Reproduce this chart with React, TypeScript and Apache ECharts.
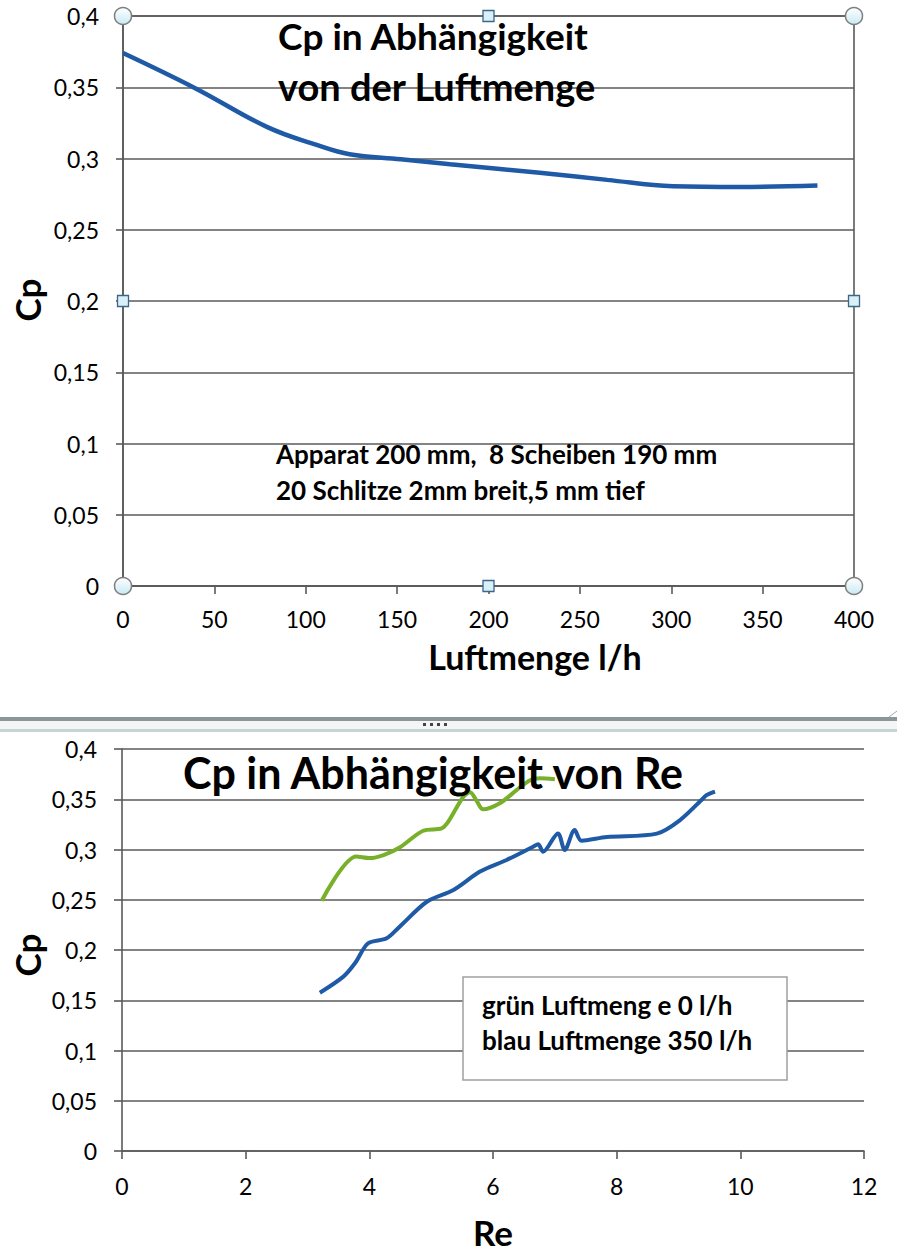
import React, { useEffect, useRef } from "react";
import * as echarts from "echarts";

// Top chart: Cp vs airflow (l/h)
const airflow = [0, 40, 79, 106, 124, 152, 179, 228, 265, 301, 338, 380];
const cpAirflow = [0.374, 0.349, 0.322, 0.3095, 0.303, 0.2995, 0.296, 0.29, 0.285, 0.2805, 0.28, 0.281];

// Bottom chart: Cp vs Re
const greenRe = [3.23, 3.79, 4.01, 4.23, 4.49, 4.87, 5.17, 5.28, 5.52, 5.63, 5.73, 5.84, 6.11, 6.38, 6.6, 6.76, 7.0];
const greenCp = [0.249, 0.293, 0.2915, 0.2945, 0.302, 0.3187, 0.321, 0.328, 0.3525, 0.357, 0.349, 0.34, 0.346, 0.359, 0.369, 0.371, 0.37];
const blueRe = [3.2, 3.58, 3.77, 3.98, 4.28, 4.49, 4.93, 5.36, 5.79, 6.22, 6.65, 6.73, 6.81, 7.05, 7.16, 7.32, 7.43, 7.84, 8.65, 9.02, 9.4, 9.45, 9.59];
const blueCp = [0.1575, 0.1735, 0.187, 0.2067, 0.2116, 0.2232, 0.248, 0.2597, 0.278, 0.2896, 0.3028, 0.3052, 0.2978, 0.316, 0.2995, 0.3194, 0.3088, 0.3125, 0.3158, 0.329, 0.351, 0.354, 0.3575];

const topXTicks = { min: 0, max: 400, interval: 50 };
const botXTicks = { min: 0, max: 12, interval: 2 };
const yTicks = { min: 0, max: 0.4, interval: 0.05 };

const FONT = "Lato";
const GRID = "#5a5a5a";

const zip = (a: number[], b: number[]) => a.map((v, i) => [v, b[i]]);
const fmtY = (v: number) => String(Math.round(v * 100) / 100).replace(".", ",");

export default function App() {
  const ref = useRef<HTMLDivElement>(null);
  useEffect(() => {
    document.body.style.margin = "0";
    if (!ref.current) return;
    const chart = echarts.init(ref.current, null, { renderer: "svg" });

    const G1 = { left: 123, top: 16, width: 731, height: 570 };
    const G2 = { left: 122, top: 749, width: 742, height: 402 };

    const axisLine = { show: true, lineStyle: { color: GRID, width: 1.6 } };
    const axisTick = { show: true, inside: false, length: 8, lineStyle: { color: GRID, width: 1.6 } };
    const label = (margin: number) => ({ color: "#000", fontSize: 23, fontFamily: FONT, margin });

    const handleFill = new echarts.graphic.LinearGradient(0, 0, 0, 1, [
      { offset: 0, color: "#ffffff" },
      { offset: 1, color: "#c8eaf3" },
    ]);
    const x1 = G1.left, x2 = G1.left + G1.width, y1 = G1.top, y2 = G1.top + G1.height;
    const xm = (x1 + x2) / 2, ym = (y1 + y2) / 2;
    const circles = [[x1, y1], [x2, y1], [x1, y2], [x2, y2]].map(([cx, cy]) => ({
      type: "circle", z: 100, shape: { cx, cy, r: 8.5 },
      style: { fill: handleFill, stroke: "#808080", lineWidth: 1.5 },
    }));
    const squares = [[xm, y1], [x1, ym], [x2, ym], [xm, y2]].map(([cx, cy]) => ({
      type: "rect", z: 100, shape: { x: cx - 5.5, y: cy - 5.5, width: 11, height: 11 },
      style: { fill: "#d8f0f8", stroke: "#3d6688", lineWidth: 1.3 },
    }));

    const txt = (text: string, x: number, y: number, fontSize: number, extra: any = {}) => ({
      type: "text", z: 110, x, y, ...extra,
      style: { text, fontSize, fontWeight: "bold", fontFamily: FONT, fill: "#000",
        align: extra.align || "left", verticalAlign: "middle" },
    });

    chart.setOption({
      animation: false,
      backgroundColor: "#fff",
      grid: [
        { ...G1, show: true, borderColor: GRID, borderWidth: 1.6, backgroundColor: "transparent" },
        { ...G2 },
      ],
      xAxis: [
        { gridIndex: 0, type: "value", ...topXTicks, axisLine, axisTick, splitLine: { show: false }, axisLabel: label(21) },
        { gridIndex: 1, type: "value", ...botXTicks, axisLine, axisTick, splitLine: { show: false }, axisLabel: label(23) },
      ],
      yAxis: [
        { gridIndex: 0, type: "value", ...yTicks, axisLine, axisTick: { ...axisTick, length: 7 },
          splitLine: { show: true, lineStyle: { color: GRID, width: 1.6 } }, axisLabel: { ...label(24), formatter: fmtY } },
        { gridIndex: 1, type: "value", ...yTicks, axisLine, axisTick: { ...axisTick, length: 8 },
          splitLine: { show: true, lineStyle: { color: GRID, width: 1.6 } }, axisLabel: { ...label(25), formatter: fmtY } },
      ],
      series: [
        { type: "line", xAxisIndex: 0, yAxisIndex: 0, data: zip(airflow, cpAirflow), smooth: 0.4,
          showSymbol: false, lineStyle: { color: "#1f5aa6", width: 4.5 } },
        { type: "line", xAxisIndex: 1, yAxisIndex: 1, data: zip(greenRe, greenCp), smooth: 0.3,
          showSymbol: false, lineStyle: { color: "#78b02a", width: 4 } },
        { type: "line", xAxisIndex: 1, yAxisIndex: 1, data: zip(blueRe, blueCp), smooth: 0.3,
          showSymbol: false, lineStyle: { color: "#1f5aa6", width: 4 } },
      ],
      graphic: [
        // separator between the two charts
        { type: "rect", z: 90, shape: { x: 0, y: 717, width: 897, height: 4 }, style: { fill: "#8c9696" } },
        { type: "rect", z: 90, shape: { x: 0, y: 721, width: 897, height: 8 }, style: { fill: "#f3f6f6" } },
        { type: "rect", z: 90, shape: { x: 0, y: 729, width: 897, height: 3 }, style: { fill: "#c6d4d4" } },
        ...[423, 430, 437, 444].map((x) => ({ type: "rect", z: 95, shape: { x, y: 723, width: 3, height: 3 }, style: { fill: "#444" } })),
        { type: "line", z: 95, shape: { x1: 889, y1: 717, x2: 897, y2: 711 }, style: { stroke: "#9aa", lineWidth: 1 } },
        // legend box bottom chart
        { type: "rect", z: 100, shape: { x: 463, y: 977, width: 324, height: 103 },
          style: { fill: "#fff", stroke: "#a0a0a0", lineWidth: 1.5 } },
        ...circles,
        ...squares,
        // texts
        txt("Cp in Abhängigkeit", 278, 35, 37),
        txt("von der Luftmenge", 278, 86, 38),
        txt("Apparat 200 mm,  8 Scheiben 190 mm", 276, 454, 26),
        txt("20 Schlitze 2mm breit,5 mm tief", 276, 490, 26),
        txt("Luftmenge l/h", 535, 656, 34, { align: "center" }),
        txt("Cp", 27, 300, 35, { align: "center", rotation: Math.PI / 2 }),
        txt("Cp in Abhängigkeit von Re", 183, 772, 43),
        txt("grün Luftmeng e 0 l/h", 482, 1005, 26),
        txt("blau Luftmenge 350 l/h", 482, 1040, 26),
        txt("Cp", 27, 955, 35, { align: "center", rotation: Math.PI / 2 }),
        txt("Re", 493, 1232, 35, { align: "center" }),
      ],
    });
    return () => chart.dispose();
  }, []);
  return <div ref={ref} style={{ width: 897, height: 1260 }} />;
}
